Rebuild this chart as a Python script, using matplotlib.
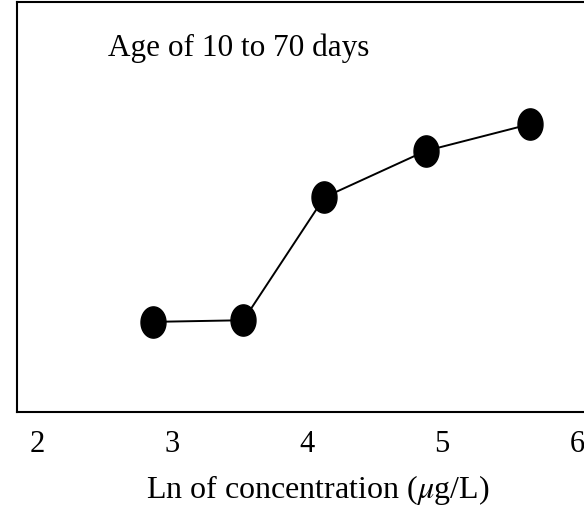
import numpy as np
import matplotlib
matplotlib.use('Agg')
import matplotlib.pyplot as plt
from matplotlib.path import Path

# данные
ln_conc = [2.86, 3.53, 4.13, 4.88, 5.65]
response = [22.0, 22.4, 52.4, 63.7, 70.2]
x_ticks = [2, 3, 4, 5, 6]

plt.rcParams['font.family'] = ['Liberation Serif', 'DejaVu Serif']
plt.rcParams['mathtext.fontset'] = 'stix'

# слегка вытянутый по вертикали кружок, как на скане
t = np.linspace(0, 2 * np.pi, 60)
ellipse = Path(np.column_stack([0.40 * np.cos(t), 0.5 * np.sin(t)]))

fig = plt.figure(figsize=(5.84, 5.31), dpi=100)
ax = fig.add_axes([0.029, 0.224, 0.998, 0.772])

ax.plot(ln_conc, response, color='black', linewidth=1.4,
        marker=ellipse, markersize=22.5, markerfacecolor='black',
        markeredgecolor='black')

ax.set_xlim(1.852, 6.17)
ax.set_ylim(0, 100)
ax.set_xticks(x_ticks)
ax.set_yticks([])
ax.tick_params(axis='x', length=0, pad=13, labelsize=22)
for s in ax.spines.values():
    s.set_linewidth(1.5)

ax.text(0.156, 0.888, 'Age of 10 to 70 days', transform=ax.transAxes,
        fontsize=22.5, va='center', ha='left')

fig.text(318 / 584, 1 - 490 / 531, r'Ln of concentration ($\mu$g/L)',
         fontsize=23, ha='center', va='center')

fig.savefig('out.png', dpi=100)
